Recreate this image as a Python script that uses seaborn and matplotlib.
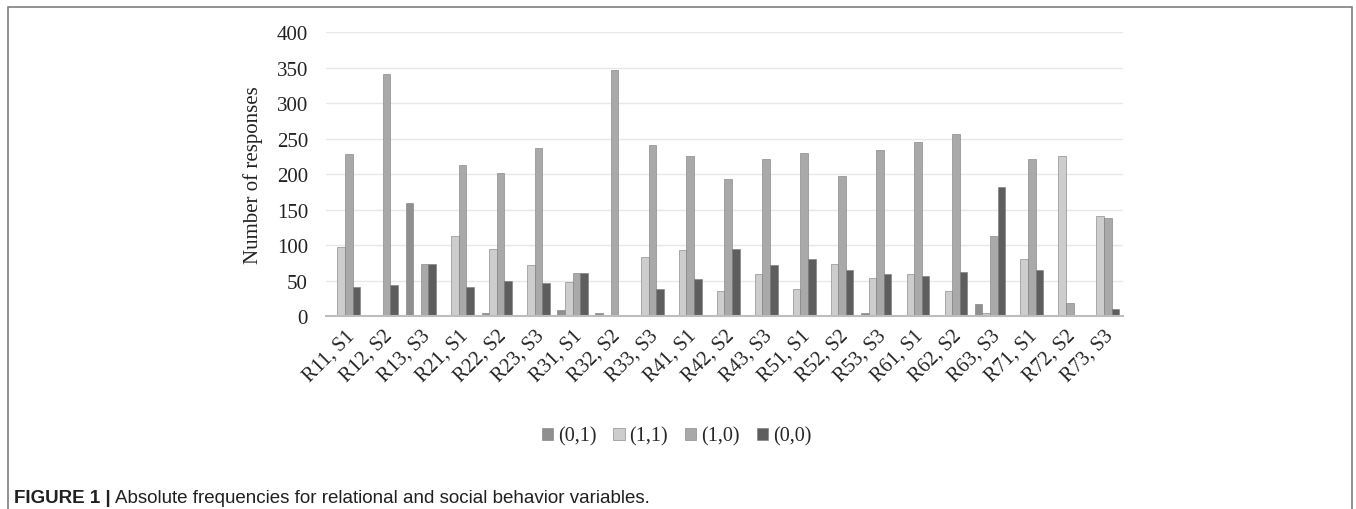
import pandas as pd
import numpy as np
import matplotlib
matplotlib.use('Agg')
import matplotlib.pyplot as plt
import seaborn as sns
from matplotlib.patches import Rectangle

cats = ['R11, S1', 'R12, S2', 'R13, S3', 'R21, S1', 'R22, S2', 'R23, S3',
        'R31, S1', 'R32, S2', 'R33, S3', 'R41, S1', 'R42, S2', 'R43, S3',
        'R51, S1', 'R52, S2', 'R53, S3', 'R61, S1', 'R62, S2', 'R63, S3',
        'R71, S1', 'R72, S2', 'R73, S3']
series = ['(0,1)', '(1,1)', '(1,0)', '(0,0)']
s01 = [2, 0, 159, 0, 4, 0, 9, 4, 0, 0, 2, 0, 2, 2, 4, 0, 2, 17, 0, 0, 0]
s11 = [98, 0, 0, 113, 95, 72, 48, 0, 83, 93, 35, 59, 39, 74, 54, 59, 35, 4, 80, 226, 141]
s10 = [228, 341, 74, 213, 202, 237, 61, 347, 241, 226, 193, 221, 230, 198, 234, 245, 256, 113, 221, 19, 139]
s00 = [41, 44, 74, 41, 50, 47, 61, 0, 39, 52, 95, 72, 80, 65, 59, 57, 62, 182, 65, 0, 10]
colors = ['#8f8f8f', '#cdcdcd', '#a9a9a9', '#5e5e5e']

rows = []
for name, vals in zip(series, [s01, s11, s10, s00]):
    for c, v in zip(cats, vals):
        rows.append({'cat': c, 'series': name, 'val': v})
df = pd.DataFrame(rows)

sns.set_style('white')
plt.rcParams['font.family'] = ['Liberation Serif', 'DejaVu Serif']

fig = plt.figure(figsize=(13.56, 5.10), dpi=100)
ax = fig.add_axes([0.2404, 0.378, 0.5877, 0.557])

sns.barplot(data=df, x='cat', y='val', hue='series', palette=colors,
            width=0.8, edgecolor='#7a7a7a', linewidth=0.4, ax=ax)

ax.set_ylim(0, 400)
ax.set_yticks(range(0, 401, 50))
ax.set_xlim(-0.5, len(cats) - 0.5)
ax.yaxis.grid(True, color='#e8e8e8', linewidth=1)
ax.set_axisbelow(True)
for s in ['top', 'right', 'left']:
    ax.spines[s].set_visible(False)
ax.spines['bottom'].set_color('#bdbdbd')
ax.spines['bottom'].set_linewidth(1.5)
ax.tick_params(axis='y', length=0, pad=13, labelsize=15, labelcolor='#222222')
ax.tick_params(axis='x', length=0, pad=7, labelsize=14.5, labelcolor='#222222')
plt.setp(ax.get_xticklabels(), rotation=45, ha='right', rotation_mode='anchor')
ax.set_xlabel('')
ax.set_ylabel('Number of responses', fontsize=15, color='#222222', labelpad=10)

ax.get_legend().remove()
handles = [Rectangle((0, 0), 1, 1, facecolor=c, edgecolor='#7a7a7a', linewidth=0.4) for c in colors]
fig.legend(handles, series, loc='center', bbox_to_anchor=(0.499, 0.143), ncol=4,
           frameon=False, fontsize=14.5, handlelength=0.55, handleheight=0.55,
           handletextpad=0.25, columnspacing=0.85)

# frame around the figure
fig.patches.append(Rectangle((8 / 1356, -0.01), (1352 - 8) / 1356, 1 - 8 / 510 + 0.01,
                             transform=fig.transFigure, fill=False,
                             edgecolor='#7f7f7f', linewidth=1.2))

# caption
t1 = fig.text(14 / 1356, 1 - 503 / 510, 'FIGURE 1 |', fontsize=13.5, fontweight='bold',
              family=['Liberation Sans'], color='#231f20', va='baseline')
fig.canvas.draw()
bb = t1.get_window_extent()
fig.text((bb.x1 + 4) / 1356, 1 - 503 / 510,
         'Absolute frequencies for relational and social behavior variables.',
         fontsize=13.5, family=['Liberation Sans'], color='#231f20', va='baseline')

fig.savefig('out.png', dpi=100)
